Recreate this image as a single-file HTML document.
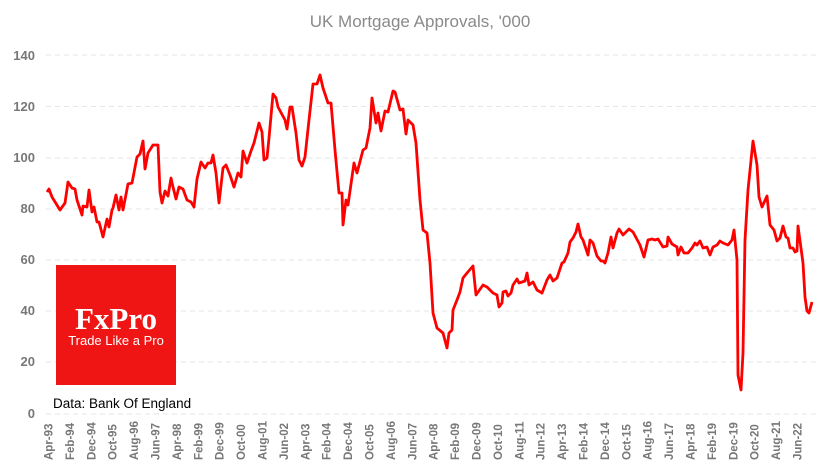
<!DOCTYPE html>
<html><head><meta charset="utf-8"><style>
html,body{margin:0;padding:0;background:#fff;}
svg{display:block;font-family:"Liberation Sans",sans-serif;}
</style></head><body>
<svg width="840" height="474" viewBox="0 0 840 474" xmlns="http://www.w3.org/2000/svg">
<text x="420" y="27" text-anchor="middle" font-size="17" fill="#8a8a8a">UK Mortgage Approvals, '000</text>
<g stroke="#e6e6e6" stroke-width="1" stroke-dasharray="5,4">
<line x1="46" x2="816" y1="55" y2="55"/><line x1="46" x2="816" y1="106.5" y2="106.5"/>
<line x1="46" x2="816" y1="158" y2="158"/><line x1="46" x2="816" y1="209" y2="209"/>
<line x1="46" x2="816" y1="260" y2="260"/><line x1="46" x2="816" y1="311" y2="311"/>
<line x1="46" x2="816" y1="362" y2="362"/><line x1="46" x2="816" y1="414" y2="414"/>
</g>
<g font-size="13" fill="#777" text-anchor="end" font-weight="bold">
<text x="35" y="60">140</text><text x="35" y="111">120</text><text x="35" y="162">100</text>
<text x="35" y="213">80</text><text x="35" y="264">60</text><text x="35" y="315">40</text>
<text x="35" y="366">20</text><text x="35" y="418">0</text>
</g>
<g font-size="11.5" fill="#777" font-weight="bold">
<text transform="translate(52.5,460) rotate(-90)">Apr-93</text>
<text transform="translate(73.9,460) rotate(-90)">Feb-94</text>
<text transform="translate(95.3,460) rotate(-90)">Dec-94</text>
<text transform="translate(116.7,460) rotate(-90)">Oct-95</text>
<text transform="translate(138.1,460) rotate(-90)">Aug-96</text>
<text transform="translate(159.5,460) rotate(-90)">Jun-97</text>
<text transform="translate(180.9,460) rotate(-90)">Apr-98</text>
<text transform="translate(202.3,460) rotate(-90)">Feb-99</text>
<text transform="translate(223.7,460) rotate(-90)">Dec-99</text>
<text transform="translate(245.1,460) rotate(-90)">Oct-00</text>
<text transform="translate(266.5,460) rotate(-90)">Aug-01</text>
<text transform="translate(287.9,460) rotate(-90)">Jun-02</text>
<text transform="translate(309.3,460) rotate(-90)">Apr-03</text>
<text transform="translate(330.7,460) rotate(-90)">Feb-04</text>
<text transform="translate(352.1,460) rotate(-90)">Dec-04</text>
<text transform="translate(373.5,460) rotate(-90)">Oct-05</text>
<text transform="translate(394.9,460) rotate(-90)">Aug-06</text>
<text transform="translate(416.3,460) rotate(-90)">Jun-07</text>
<text transform="translate(437.7,460) rotate(-90)">Apr-08</text>
<text transform="translate(459.1,460) rotate(-90)">Feb-09</text>
<text transform="translate(480.5,460) rotate(-90)">Dec-09</text>
<text transform="translate(501.9,460) rotate(-90)">Oct-10</text>
<text transform="translate(523.3,460) rotate(-90)">Aug-11</text>
<text transform="translate(544.7,460) rotate(-90)">Jun-12</text>
<text transform="translate(566.1,460) rotate(-90)">Apr-13</text>
<text transform="translate(587.5,460) rotate(-90)">Feb-14</text>
<text transform="translate(608.9,460) rotate(-90)">Dec-14</text>
<text transform="translate(630.3,460) rotate(-90)">Oct-15</text>
<text transform="translate(651.7,460) rotate(-90)">Aug-16</text>
<text transform="translate(673.1,460) rotate(-90)">Jun-17</text>
<text transform="translate(694.5,460) rotate(-90)">Apr-18</text>
<text transform="translate(715.9,460) rotate(-90)">Feb-19</text>
<text transform="translate(737.3,460) rotate(-90)">Dec-19</text>
<text transform="translate(758.7,460) rotate(-90)">Oct-20</text>
<text transform="translate(780.1,460) rotate(-90)">Aug-21</text>
<text transform="translate(801.5,460) rotate(-90)">Jun-22</text>
</g>
<polyline fill="none" stroke="#ff0000" stroke-width="2.8" stroke-linejoin="round" points="
47,192 49,189 52,197 60,210 65,203 68,182 72,188 75,189 77,200 82,215 83,206 87,207 89,190 92,212 94,207 97,222 99,222 103,237 107,219 109,227 112,210 113,208 116,195 119,210 121,197 123,210 128,184 132,183 137,157 140,154 143,141 145,169 148,153 153,145 158,145 160,192 162,203 165,191 168,196 171,178 173,187 176,199 179,187 183,189 187,200 191,202 194,207 197,179 201,162 205,168 208,163 211,163 213,155 216,173 219,203 223,168 226,165 230,175 234,187 238,173 241,177 243,151 247,163 251,151 254,143 259,123 262,132 264,160 267,158 269,138 273,94 276,98 278,107 285,120 287,129 290,107 292,107 296,133 299,160 302,166 305,157 309,120 313,84 317,84 320,75 323,88 328,103 331,103 335,150 339,193 342,193 343,225 346,200 348,205 354,163 357,173 363,150 366,148 370,128 372,98 376,123 378,113 381,131 385,111 388,112 393,91 395,92 400,110 403,109 406,134 408,120 413,125 416,143 420,200 423,230 427,233 430,263 433,313 437,328 443,333 447,348 449,333 452,330 453,310 457,300 460,292 463,278 467,273 473,266 476,295 483,285 487,287 493,293 497,295 499,307 502,303 503,292 506,291 508,296 511,293 513,285 517,279 519,283 525,281 527,273 529,285 533,282 537,290 542,293 547,280 550,275 553,281 557,278 562,263 564,262 568,253 570,242 573,238 576,232 578,224 581,237 583,240 588,255 590,240 593,243 597,256 601,261 603,261 605,263 608,253 611,237 613,248 617,233 619,229 623,235 629,229 633,232 640,245 644,257 648,240 652,239 655,240 658,239 663,247 667,246 668,237 672,244 677,247 678,255 681,247 684,253 688,253 692,248 695,243 697,245 700,241 703,248 707,247 710,255 713,247 717,245 720,241 723,243 728,245 732,240 734,230 737,260 738,375 741,390 743,353 745,240 748,190 753,141 757,165 759,197 762,207 767,196 770,225 774,230 777,241 780,238 783,226 786,237 788,238 790,248 793,248 795,252 797,251 798,226 803,263 805,297 807,311 809,313 812,302"/>
<rect x="56" y="265" width="120" height="120" fill="#f01515"/>
<text x="116" y="329" text-anchor="middle" font-family="Liberation Serif,serif" font-weight="bold" font-size="31" fill="#fff">FxPro</text>
<text x="116" y="345" text-anchor="middle" font-size="13" fill="#fff">Trade Like a Pro</text>
<text x="53" y="408" font-size="13.5" fill="#000">Data: Bank Of England</text>
</svg>
</body></html>
